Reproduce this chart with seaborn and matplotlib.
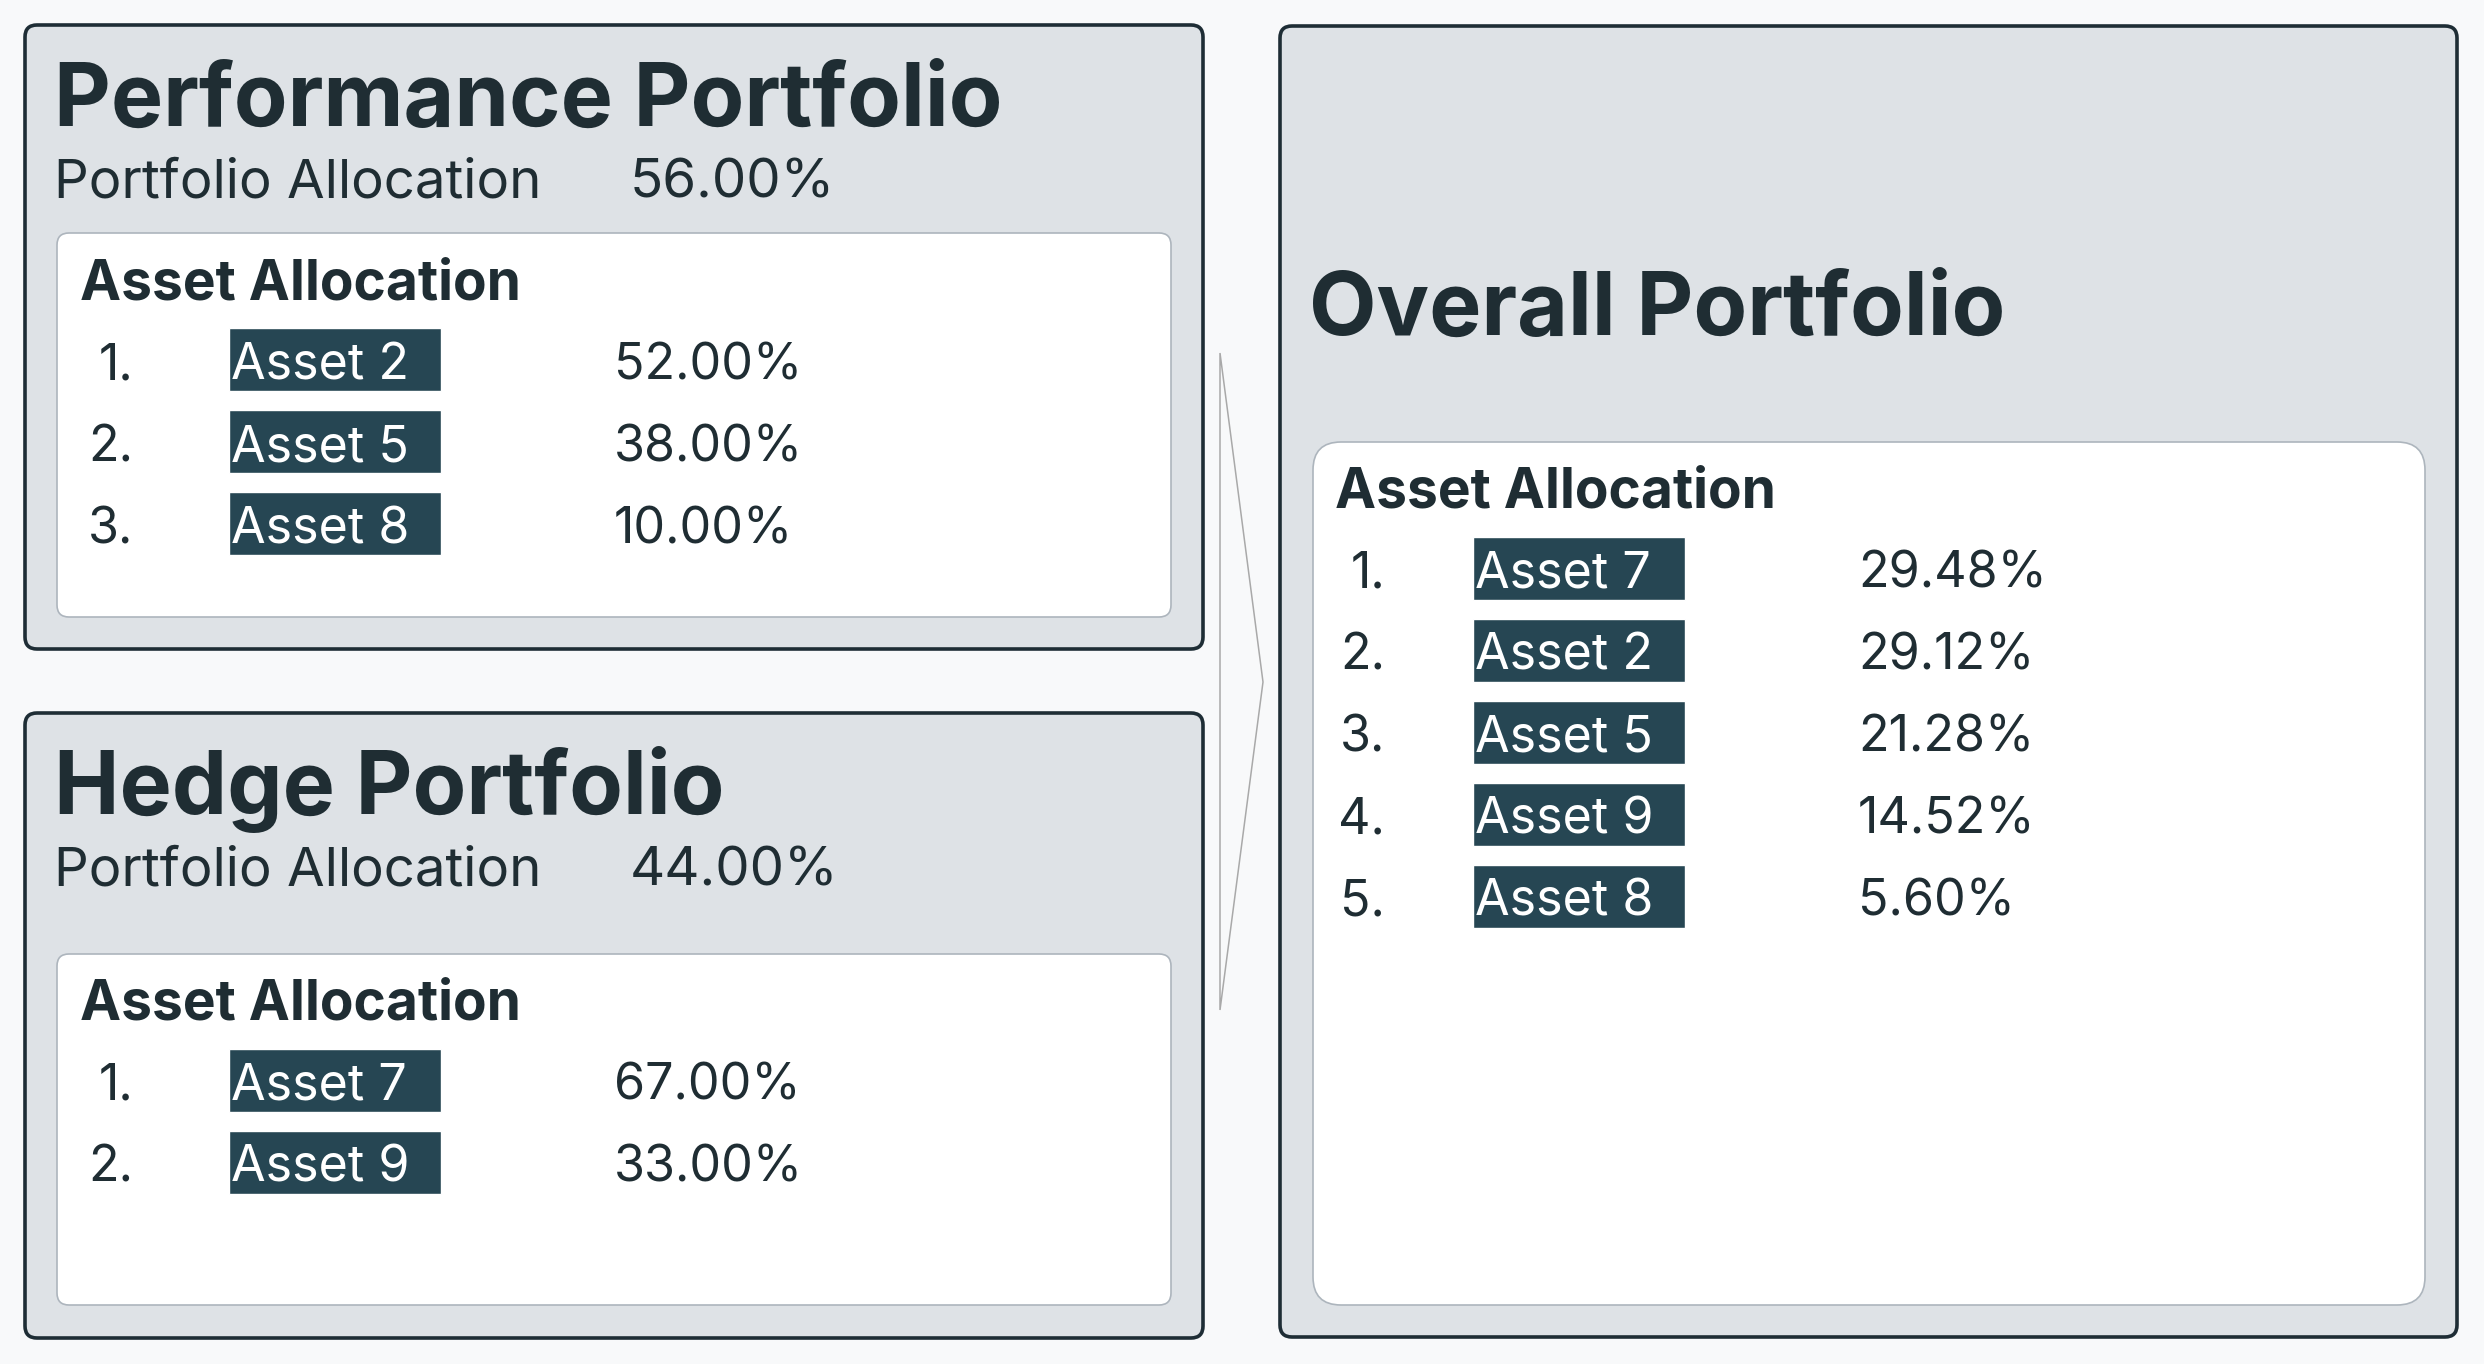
import matplotlib
matplotlib.use("Agg")
import matplotlib.pyplot as plt
import seaborn as sns
from matplotlib.patches import FancyBboxPatch, Polygon

# ---------------- data ----------------
perf_title = "Performance Portfolio"
perf_alloc = 56.00
perf_assets = ["Asset 2", "Asset 5", "Asset 8"]
perf_weights = [52.00, 38.00, 10.00]

hedge_title = "Hedge Portfolio"
hedge_alloc = 44.00
hedge_assets = ["Asset 7", "Asset 9"]
hedge_weights = [67.00, 33.00]

overall_title = "Overall Portfolio"
overall_assets = ["Asset 7", "Asset 2", "Asset 5", "Asset 9", "Asset 8"]
overall_weights = [29.48, 29.12, 21.28, 14.52, 5.60]

sub_label = "Portfolio Allocation"
section_label = "Asset Allocation"

# ---------------- style ----------------
sns.set_theme(style="white")
FAMILY = ["Inter", "DejaVu Sans"]
plt.rcParams["font.family"] = FAMILY

BG = "#f8f9fa"
PANEL = "#dee2e6"
EDGE = "#1e2d35"
CARD_EDGE = "#adb5bd"
BADGE = "#264653"
TEXT = "#1f2d33"

W, H = 2484, 1364
fig = plt.figure(figsize=(W / 100, H / 100), dpi=100, facecolor=BG)
ax = fig.add_axes([0, 0, 1, 1])
ax.set_xlim(0, W)
ax.set_ylim(H, 0)
ax.axis("off")
ax.set_facecolor(BG)

renderer = fig.canvas.get_renderer()


def fit_size(s, target_px, weight):
    t = ax.text(0, 0, s, fontsize=20, fontweight=weight, family=FAMILY)
    w = t.get_window_extent(renderer).width
    t.remove()
    return 20 * target_px / w


TITLE_FS = fit_size(perf_title, 950, "bold")
SUB_FS = fit_size(sub_label, 488, "normal")
SEC_FS = fit_size(section_label, 442, "bold")
ROW_FS = fit_size("Asset 2", 178, "normal")


def rbox(x0, y0, x1, y1, fc, ec, lw, r, z):
    p = FancyBboxPatch((x0, y0), x1 - x0, y1 - y0,
                       boxstyle=f"round,pad=0,rounding_size={r}",
                       fc=fc, ec=ec, lw=lw, zorder=z)
    ax.add_patch(p)


def rows(assets, weights, card_top, num_right, badge_left, pct_left):
    centers = [card_top + 126 + 82 * i for i in range(len(assets))]
    ax.barh(centers, [212] * len(assets), left=badge_left, height=63,
            color=BADGE, zorder=4)
    for i, (a, v) in enumerate(zip(assets, weights)):
        base = centers[i] + 20
        ax.text(num_right, base, f"{i + 1}.", fontsize=ROW_FS, color=TEXT,
                ha="right", va="baseline", zorder=5)
        ax.text(badge_left + 2, base, a, fontsize=ROW_FS, color="white",
                ha="left", va="baseline", zorder=5)
        ax.text(pct_left, base, f"{v:.2f}%", fontsize=ROW_FS, color=TEXT,
                ha="left", va="baseline", zorder=5)


def side_panel(title, alloc, assets, weights, top, bottom, card_top, card_bottom):
    rbox(25, top, 1203, bottom, PANEL, EDGE, 2.6, 12, 1)
    ax.text(54, top + 101, title, fontsize=TITLE_FS, fontweight="bold",
            color=TEXT, va="baseline", zorder=5)
    ax.text(54, top + 172, sub_label, fontsize=SUB_FS, fontweight="normal",
            color=TEXT, va="baseline", zorder=5)
    ax.text(630, top + 172, f"{alloc:.2f}%", fontsize=SUB_FS, fontweight="normal",
            color=TEXT, va="baseline", zorder=5)
    rbox(57, card_top, 1171, card_bottom, "white", CARD_EDGE, 1.2, 12, 2)
    ax.text(80, card_top + 66, section_label, fontsize=SEC_FS, fontweight="bold",
            color=TEXT, va="baseline", zorder=5)
    rows(assets, weights, card_top, 133, 229, 614)


side_panel(perf_title, perf_alloc, perf_assets, perf_weights, 25, 649, 233, 617)
side_panel(hedge_title, hedge_alloc, hedge_assets, hedge_weights, 713, 1338, 954, 1305)

# overall panel
rbox(1280, 26, 2457, 1337, PANEL, EDGE, 2.6, 12, 1)
ax.text(1309, 335, overall_title, fontsize=TITLE_FS, fontweight="bold",
        color=TEXT, va="baseline", zorder=5)
rbox(1313, 442, 2425, 1305, "white", CARD_EDGE, 1.2, 28, 2)
ax.text(1335, 507, section_label, fontsize=SEC_FS, fontweight="bold",
        color=TEXT, va="baseline", zorder=5)
rows(overall_assets, overall_weights, 442, 1385, 1473, 1858)

# arrow
ax.add_patch(Polygon([(1220, 353), (1263, 682), (1220, 1010)], closed=True,
                     fill=False, ec="#a9a9a9", lw=1.1, zorder=3))

fig.savefig("out.png", dpi=100, facecolor=BG)
